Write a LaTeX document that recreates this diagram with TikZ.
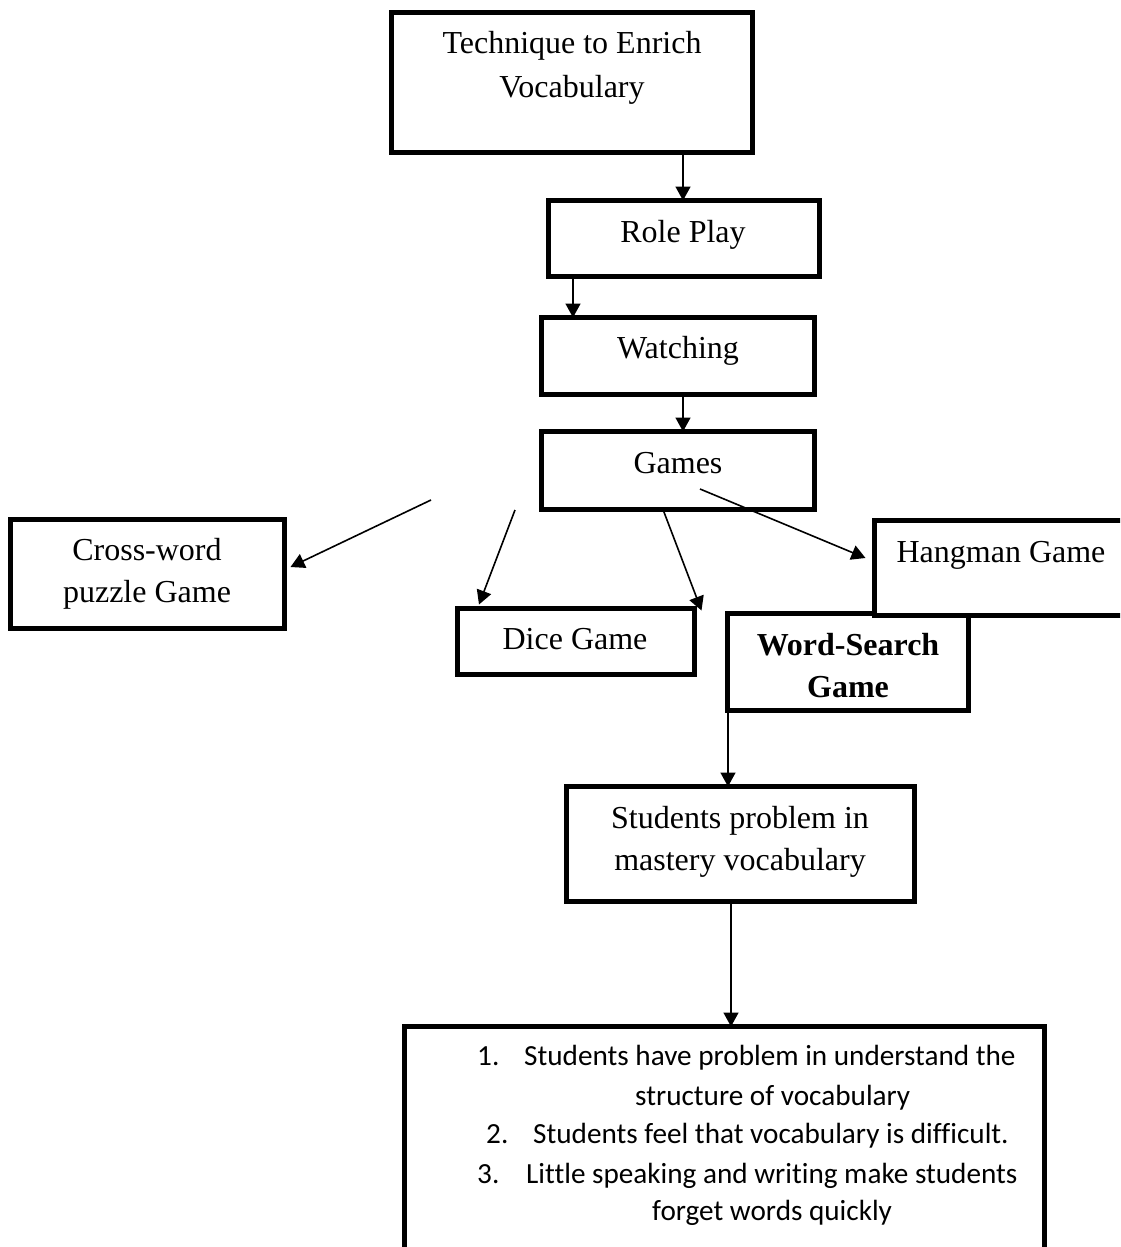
\documentclass[tikz,border=0pt]{standalone}
\usepackage{fontspec}
\setmainfont{Liberation Serif}
\newfontfamily\calfont[Ligatures=NoCommon]{Carlito}
\usetikzlibrary{arrows.meta}
\begin{document}
\begin{tikzpicture}[x=1pt,y=-1pt,
  box/.style={draw, line width=5pt, fill=white, inner sep=0pt, outer sep=0pt},
  tx/.style={inner sep=0pt, anchor=base, font=\fontsize{32}{38}\selectfont},
  bx/.style={inner sep=0pt, anchor=base west, font=\calfont\fontsize{29.2}{35}\selectfont},
  arr/.style={line width=1.6pt, -{Triangle[length=14pt,width=15pt]}}]
\useasboundingbox (0,0) rectangle (1120,1247);
\clip (0,0) rectangle (1120,1247);
% boxes
\node[box, minimum width=361pt, minimum height=140pt] (tech) at (572,82.5) {};
\node[box, minimum width=271pt, minimum height=76pt] (role) at (684,238.5) {};
\node[box, minimum width=273pt, minimum height=77pt] (watch) at (678,356) {};
\node[box, minimum width=273pt, minimum height=78pt] (games) at (678,470.5) {};
\node[box, minimum width=274pt, minimum height=109pt] (cross) at (147.5,574) {};
\node[box, minimum width=237pt, minimum height=66pt] (dice) at (576,641.5) {};
\node[box, minimum width=241pt, minimum height=97pt] (ws) at (848,662) {};
\node[box, minimum width=263pt, minimum height=95pt] (hang) at (1006,568) {};
\node[box, minimum width=348pt, minimum height=115pt] (stud) at (740.5,844) {};
\node[box, minimum width=640pt, minimum height=273.5pt] (bot) at (724.5,1163.25) {};
% texts
\node[tx] (t1a) at (572,54) {Technique to Enrich};
\node[tx] (t1b) at (572,97) {Vocabulary};
\node[tx] (t2) at (683,242) {Role Play};
\node[tx] (t3) at (678,358) {Watching};
\node[tx] (t4) at (678,473) {Games};
\node[tx] (t5a) at (147,560) {Cross-word};
\node[tx] (t5b) at (147,602) {puzzle Game};
\node[tx] (t6) at (575,649) {Dice Game};
\node[tx] (t7) at (1001,562) {Hangman Game};
\node[tx, font=\fontsize{32}{38}\selectfont\bfseries] (t8a) at (848,655) {Word-Search};
\node[tx, font=\fontsize{32}{38}\selectfont\bfseries] (t8b) at (848,697) {Game};
\node[tx] (t9a) at (740,828) {Students problem in};
\node[tx] (t9b) at (740,870) {mastery vocabulary};
\node[bx] (n1) at (477,1065) {1.};
\node[bx] (l1) at (524,1065) {Students have problem in understand the};
\node[bx] (l1b) at (635,1105) {structure of vocabulary};
\node[bx] (n2) at (486,1143) {2.};
\node[bx] (l2) at (533,1143) {Students feel that vocabulary is difficult.};
\node[bx] (n3) at (477,1183) {3.};
\node[bx] (l3) at (526,1183) {Little speaking and writing make students};
\node[bx] (l3b) at (652,1220) {forget words quickly};
% connector coordinates
\coordinate (x1) at (683,0);
\coordinate (x2) at (573,0);
\coordinate (x3) at (683,0);
\coordinate (x6) at (663,0);
\coordinate (x8) at (728,0);
\coordinate (x9) at (731,0);
\coordinate (s4) at (431,500);
\coordinate (s5) at (515,510);
\coordinate (s7) at (700,489);
% connectors
\draw[arr] (tech.south -| x1) -- (role.north -| x1);
\draw[arr] (role.south -| x2) -- (watch.north -| x2);
\draw[arr] (watch.south -| x3) -- (games.north -| x3);
\draw[arr] (s4) -- ([shift={(6,-7)}]cross.east);
\draw[arr] (s5) -- ([shift={(-97,-4)}]dice.north);
\draw[arr] (games.south -| x6) -- ([shift={(7,2)}]dice.north east);
\draw[arr] (s7) -- ([shift={(-9,-10)}]hang.west);
\draw[arr] (ws.south -| x8) -- (stud.north -| x8);
\draw[arr] (stud.south -| x9) -- (bot.north -| x9);
\end{tikzpicture}
\end{document}
